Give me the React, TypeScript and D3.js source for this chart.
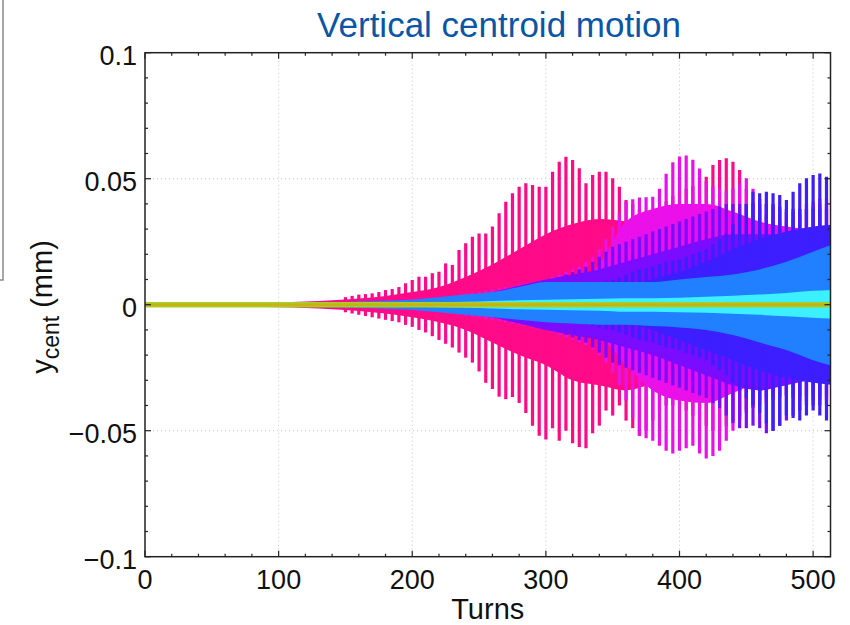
import React from 'react';
import * as d3 from 'd3';

// ---------- data (mm) ----------
const BAR_TURNS = [
  150,155,160,165,170,175,180,185,190,195,
  200,205,210,215,220,225,230,235,240,245,
  250,255,260,265,270,275,280,285,290,295,
  300,305,310,315,320,325,330,335,340,345,
  350,355,360,365,370,375,380,385,390,395,
  400,405,410,415,420,425,430,435,440,445,
  450,455,460,465,470,475,480,485,490,495,
  500,505,510];

const CORE_TURNS = [0,20,40,60,80,100,120,140,160,180,200,220,240,260,280,300,320,340,360,380,400,420,440,460,480,500,520];

// pink bunch
const PINK_TOP = [
  .003,.0035,.004,.0042,.0045,.005,.0058,.0062,.007,.0085,
  .0098,.0111,.0111,.0125,.0131,.0164,.0158,.0217,.0244,.027,
  .0283,.0283,.031,.0363,.0409,.0442,.0468,.0482,.0475,.0468,
  .0468,.0528,.0567,.0587,.0574,.0541,.0482,.0515,.0528,.0528,
  .0502,.0468,.0415,.040,.038,.037,.036,.038,.041,.043,
  .045,.046,.047,.049,.0508,.0554,.0574,.0581,.0567,.0535,
  .046,.041,.038,.036,.035,.034,.033,.034,.036,.038,
  .039,.040,.040];
const PINK_BOT = [
  -.003,-.0035,-.004,-.0045,-.005,-.0055,-.006,-.0065,-.007,-.008,
  -.0088,-.010,-.011,-.0125,-.014,-.0155,-.017,-.019,-.021,-.023,
  -.0265,-.031,-.0335,-.0365,-.0375,-.0366,-.039,-.043,-.048,-.052,
  -.0535,-.049,-.054,-.050,-.055,-.0565,-.057,-.051,-.048,-.042,
  -.044,-.040,-.046,-.049,-.052,-.050,-.046,-.042,-.040,-.040,
  -.041,-.042,-.044,-.046,-.048,-.050,-.050,-.048,-.046,-.044,
  -.042,-.040,-.038,-.037,-.036,-.036,-.036,-.037,-.038,-.038,
  -.038,-.038,-.038];
const PINK_CORE_TOP = [0,.0003,.0004,.0006,.0008,.001,.0013,.0018,.0025,.0035,.005,.007,.011,.016,.022,.028,.032,.034,.033,.030,.032,.036,.036,.030,.026,.026,.026];
const PINK_CORE_BOT = [0,-.0003,-.0004,-.0006,-.0008,-.001,-.0013,-.0018,-.0025,-.0035,-.005,-.007,-.010,-.015,-.020,-.024,-.030,-.032,-.034,-.032,-.034,-.034,-.032,-.028,-.026,-.026,-.026];

// magenta bunch
const MAG_TOP = [
  .001,.0011,.0012,.0013,.0014,.0015,.0016,.0017,.0018,.002,
  .0022,.0024,.0026,.0028,.003,.0033,.0036,.004,.0044,.0048,
  .0052,.0056,.006,.0065,.007,.0075,.008,.0085,.009,.0095,
  .010,.011,.012,.013,.014,.015,.017,.019,.022,.026,
  .031,.036,.041,.0418,.0425,.0426,.0428,.046,.052,.0565,
  .0588,.0592,.0575,.054,.049,.047,.046,.045,.046,.048,
  .0502,.046,.042,.040,.039,.038,.037,.037,.038,.040,
  .041,.042,.042];
const MAG_BOT = [
  -.001,-.0011,-.0012,-.0013,-.0014,-.0015,-.0016,-.0017,-.0018,-.002,
  -.0022,-.0024,-.0026,-.0028,-.003,-.0033,-.0036,-.004,-.0044,-.0048,
  -.0052,-.0056,-.006,-.0065,-.007,-.0075,-.008,-.0085,-.009,-.0095,
  -.010,-.011,-.012,-.013,-.014,-.015,-.016,-.018,-.020,-.023,
  -.027,-.032,-.038,-.045,-.052,-.053,-.054,-.056,-.058,-.059,
  -.058,-.057,-.056,-.059,-.061,-.060,-.058,-.054,-.050,-.046,
  -.043,-.041,-.040,-.039,-.038,-.037,-.036,-.036,-.036,-.036,
  -.036,-.036,-.036];
const MAG_CORE_TOP = [0,.0002,.0003,.0004,.0005,.0006,.0007,.0008,.001,.0012,.0014,.0017,.002,.0025,.003,.004,.007,.016,.033,.038,.040,.040,.037,.033,.031,.030,.030];
const MAG_CORE_BOT = [0,-.0002,-.0003,-.0004,-.0005,-.0006,-.0007,-.0008,-.001,-.0012,-.0014,-.0017,-.002,-.0025,-.003,-.004,-.006,-.012,-.024,-.034,-.038,-.039,-.035,-.031,-.029,-.028,-.028];

// violet bunch
const VIO_TOP = [
  .0008,.0008,.0009,.001,.001,.0011,.0012,.0013,.0014,.0015,
  .0016,.0018,.002,.0022,.0024,.0026,.0028,.003,.0033,.0036,
  .004,.0044,.0048,.0052,.0056,.006,.0065,.007,.0075,.008,
  .009,.010,.011,.012,.013,.014,.015,.017,.019,.021,
  .023,.024,.025,.026,.027,.028,.029,.030,.031,.032,
  .033,.034,.035,.036,.037,.038,.039,.040,.040,.040,
  .040,.040,.040,.040,.040,.039,.038,.038,.038,.038,
  .038,.038,.038];
const VIO_BOT = [
  -.0008,-.0008,-.0009,-.001,-.001,-.0011,-.0012,-.0013,-.0014,-.0015,
  -.0016,-.0018,-.002,-.0022,-.0024,-.0026,-.0028,-.003,-.0033,-.0036,
  -.004,-.0044,-.0048,-.0052,-.0056,-.006,-.0065,-.007,-.0075,-.008,
  -.009,-.010,-.011,-.012,-.013,-.014,-.015,-.017,-.019,-.021,
  -.023,-.024,-.025,-.026,-.027,-.028,-.029,-.030,-.031,-.032,
  -.033,-.034,-.035,-.036,-.037,-.039,-.041,-.044,-.047,-.049,
  -.049,-.048,-.049,-.051,-.050,-.048,-.046,-.044,-.042,-.040,
  -.040,-.040,-.040];
const VIO_CORE_TOP = [0,.0001,.0001,.0002,.0002,.0003,.0004,.0005,.0006,.0008,.001,.0015,.003,.005,.0075,.010,.012,.014,.017,.020,.023,.026,.028,.028,.028,.028,.028];
const VIO_CORE_BOT = [0,-.0001,-.0001,-.0002,-.0002,-.0003,-.0004,-.0005,-.0006,-.0008,-.001,-.0015,-.003,-.005,-.0075,-.010,-.012,-.014,-.017,-.020,-.024,-.028,-.032,-.034,-.032,-.030,-.030];

// blue-violet bunch
const BV_TOP = [
  .0005,.0005,.0006,.0006,.0007,.0007,.0008,.0008,.0009,.001,
  .0011,.0012,.0013,.0014,.0015,.0016,.0018,.002,.0022,.0024,
  .0026,.0028,.003,.0032,.0034,.0036,.0038,.004,.0043,.0046,
  .005,.0055,.006,.0065,.007,.0075,.008,.0085,.009,.0095,
  .010,.011,.012,.013,.014,.0145,.015,.016,.017,.0175,
  .018,.019,.020,.021,.022,.024,.026,.028,.032,.036,
  .040,.0448,.0442,.0448,.0442,.0435,.0415,.0448,.0482,.0502,
  .0515,.0521,.0508];
const BV_BOT = [
  -.0005,-.0005,-.0006,-.0006,-.0007,-.0007,-.0008,-.0008,-.0009,-.001,
  -.0011,-.0012,-.0013,-.0014,-.0015,-.0016,-.0018,-.002,-.0022,-.0024,
  -.0026,-.0028,-.003,-.0032,-.0034,-.0036,-.0038,-.004,-.0043,-.0046,
  -.005,-.0055,-.006,-.0065,-.007,-.0075,-.008,-.0085,-.009,-.0095,
  -.010,-.011,-.012,-.013,-.014,-.0145,-.015,-.016,-.017,-.0175,
  -.018,-.019,-.020,-.021,-.022,-.024,-.026,-.028,-.031,-.034,
  -.037,-.040,-.043,-.047,-.050,-.048,-.044,-.045,-.046,-.044,
  -.042,-.044,-.046];
const BV_CORE_TOP = [0,.0001,.0001,.0001,.0002,.0002,.0003,.0003,.0004,.0005,.0006,.0008,.001,.0013,.0018,.0025,.0035,.005,.007,.010,.013,.017,.022,.026,.029,.031,.032];
const BV_CORE_BOT = [0,-.0001,-.0001,-.0001,-.0002,-.0002,-.0003,-.0003,-.0004,-.0005,-.0006,-.0008,-.001,-.0013,-.0018,-.0025,-.0035,-.005,-.007,-.010,-.014,-.018,-.022,-.026,-.029,-.031,-.032];

// azure, cyan, green and gold bunches (envelopes only)
const AZ_TOP = [0,.0002,.0003,.0004,.0005,.0006,.0008,.001,.0013,.0016,.002,.003,.004,.005,.007,.009,.009,.009,.009,.009,.010,.011,.012,.014,.017,.021,.025];
const AZ_BOT = [0,-.0002,-.0003,-.0004,-.0005,-.0006,-.0008,-.001,-.0013,-.0016,-.002,-.003,-.004,-.005,-.006,-.007,-.0075,-.008,-.008,-.0085,-.009,-.010,-.012,-.015,-.018,-.022,-.025];
const CY_TOP = [0,0,0,0,.0001,.0002,.0003,.0004,.0005,.0006,.0008,.001,.0012,.0015,.0018,.002,.0022,.0024,.0026,.0026,.0028,.0032,.0036,.004,.0046,.0055,.006];
const CY_BOT = [0,0,0,0,-.0001,-.0002,-.0003,-.0004,-.0005,-.0006,-.0008,-.001,-.0012,-.0015,-.0018,-.002,-.0022,-.0024,-.0028,-.0028,-.003,-.0032,-.0036,-.004,-.0046,-.0052,-.0056];
const GR_TOP = [.0011,.0011,.0011,.0011,.0011,.0011,.0011,.0011,.0011,.0011,.0011,.0011,.0011,.0011,.0011,.0011,.0011,.0011,.0011,.0011,.0011,.0011,.0011,.0011,.0011,.0011,.0011];
const GR_BOT = [-.0011,-.0011,-.0011,-.0011,-.0011,-.0011,-.0011,-.0011,-.0011,-.0011,-.0011,-.0011,-.0011,-.0011,-.0011,-.0011,-.0011,-.0011,-.0011,-.0011,-.0011,-.0011,-.0011,-.0011,-.0011,-.0011,-.0011];
const GO_TOP = [.0005,.0005,.0005,.0005,.0005,.0005,.0005,.0005,.0005,.0005,.0005,.0005,.0005,.0005,.0005,.0005,.0005,.0005,.0005,.0005,.0005,.0005,.0005,.0005,.0005,.0005,.0005];
const GO_BOT = [-.0005,-.0005,-.0005,-.0005,-.0005,-.0005,-.0005,-.0005,-.0005,-.0005,-.0005,-.0005,-.0005,-.0005,-.0005,-.0005,-.0005,-.0005,-.0005,-.0005,-.0005,-.0005,-.0005,-.0005,-.0005,-.0005,-.0005];

const X_TICKS = [0, 100, 200, 300, 400, 500];
const X_TICK_LABELS = ['0', '100', '200', '300', '400', '500'];
const Y_TICKS = [-0.1, -0.05, 0, 0.05, 0.1];
const Y_TICK_LABELS = ['\u22120.1', '\u22120.05', '0', '0.05', '0.1'];
const X_GRID = [100, 200, 300, 400, 500];
const Y_GRID = [-0.05, 0, 0.05];

const TITLE = 'Vertical centroid motion';
const X_LABEL = 'Turns';

// ---------- layout ----------
const W = 850, H = 625;
const L = 145, R = 830.5, T = 52.7, B = 556.7;
const FONT = '"Liberation Sans", Arial, Helvetica, sans-serif';

export default function App() {
  const x = d3.scaleLinear().domain([0, 513]).range([L, R]);
  const y = d3.scaleLinear().domain([-0.1, 0.1]).range([B, T]);

  const area = (tops: number[], bots: number[]) =>
    d3.area<number>()
      .x((_, i) => x(CORE_TURNS[i]))
      .y0((_, i) => y(bots[i]))
      .y1((d) => y(d))
      .curve(d3.curveMonotoneX)(tops) || '';

  const traces = [
    { color: '#ff0a88', coreTop: PINK_CORE_TOP, coreBot: PINK_CORE_BOT, top: PINK_TOP, bot: PINK_BOT },
    { color: '#ea10ea', coreTop: MAG_CORE_TOP, coreBot: MAG_CORE_BOT, top: MAG_TOP, bot: MAG_BOT },
    { color: '#7a0cff', coreTop: VIO_CORE_TOP, coreBot: VIO_CORE_BOT, top: VIO_TOP, bot: VIO_BOT },
    { color: '#3c1eff', coreTop: BV_CORE_TOP, coreBot: BV_CORE_BOT, top: BV_TOP, bot: BV_BOT },
  ];
  const bands = [
    { color: '#2080ff', top: AZ_TOP, bot: AZ_BOT },
    { color: '#3cf0ff', top: CY_TOP, bot: CY_BOT },
    { color: '#a8cc2c', top: GR_TOP, bot: GR_BOT },
    { color: '#c4b410', top: GO_TOP, bot: GO_BOT },
  ];

  const minorX = d3.range(0, 513, 20).filter((v) => v % 100 !== 0);
  const minorY = d3.range(-10, 11, 1).map((v) => v / 100).filter((v) => Math.abs(Math.round(v * 100)) % 5 !== 0);

  return (
    <svg width={W} height={H} style={{ position: 'absolute', left: 0, top: 0, background: '#fff' }} fontFamily={FONT}>
      <defs>
        <clipPath id="plot">
          <rect x={L} y={T} width={R - L} height={B - T} />
        </clipPath>
      </defs>
      <rect x={0} y={0} width={W} height={H} fill="#ffffff" />

      {/* left slide border fragment */}
      <path d="M3,0 V280 H0" fill="none" stroke="#8a8a8a" strokeWidth={1.5} />

      {/* title */}
      <text x={499} y={37} textAnchor="middle" fontSize={35} fill="#0b56a4">{TITLE}</text>

      {/* grid */}
      <g stroke="#c8c8c8" strokeWidth={1} strokeDasharray="1,3">
        {X_GRID.map((v) => <line key={'gx' + v} x1={x(v)} x2={x(v)} y1={T} y2={B} />)}
        {Y_GRID.map((v) => <line key={'gy' + v} x1={L} x2={R} y1={y(v)} y2={y(v)} />)}
      </g>

      {/* data */}
      <g clipPath="url(#plot)">
        {traces.map((tr, k) => (
          <g key={'tr' + k}>
            <path d={area(tr.coreTop, tr.coreBot)} fill={tr.color} />
            {BAR_TURNS.map((t, i) => (
              <line key={i} x1={x(t)} x2={x(t)} y1={y(tr.top[i])} y2={y(tr.bot[i])} stroke={tr.color} strokeWidth={3.2} />
            ))}
          </g>
        ))}
        {bands.map((b, k) => (
          <path key={'b' + k} d={area(b.top, b.bot)} fill={b.color} />
        ))}
      </g>

      {/* frame */}
      <rect x={L} y={T} width={R - L} height={B - T} fill="none" stroke="#222" strokeWidth={1.5} />

      {/* ticks */}
      <g stroke="#222" strokeWidth={1.2}>
        {X_TICKS.map((v) => (
          <g key={'xt' + v}>
            <line x1={x(v)} x2={x(v)} y1={B} y2={B - 6} />
            <line x1={x(v)} x2={x(v)} y1={T} y2={T + 6} />
          </g>
        ))}
        {minorX.map((v) => (
          <g key={'xm' + v}>
            <line x1={x(v)} x2={x(v)} y1={B} y2={B - 3} />
            <line x1={x(v)} x2={x(v)} y1={T} y2={T + 3} />
          </g>
        ))}
        {Y_TICKS.map((v) => (
          <g key={'yt' + v}>
            <line x1={L} x2={L + 6} y1={y(v)} y2={y(v)} />
            <line x1={R} x2={R - 6} y1={y(v)} y2={y(v)} />
          </g>
        ))}
        {minorY.map((v) => (
          <g key={'ym' + v}>
            <line x1={L} x2={L + 3} y1={y(v)} y2={y(v)} />
            <line x1={R} x2={R - 3} y1={y(v)} y2={y(v)} />
          </g>
        ))}
      </g>

      {/* tick labels */}
      <g fontSize={27} fill="#111">
        {X_TICKS.map((v, i) => (
          <text key={'xl' + v} x={x(v)} y={589} textAnchor="middle">{X_TICK_LABELS[i]}</text>
        ))}
        {Y_TICKS.map((v, i) => (
          <text key={'yl' + v} x={L - 8} y={y(v) + 12.5} textAnchor="end">{Y_TICK_LABELS[i]}</text>
        ))}
      </g>

      {/* axis labels */}
      <text x={(L + R) / 2} y={619} textAnchor="middle" fontSize={29} fill="#111">{X_LABEL}</text>
      <text transform={`translate(52,307) rotate(-90)`} textAnchor="middle" fontSize={29} fill="#111">
        <tspan>y</tspan>
        <tspan fontSize={23} dy={7}>cent</tspan>
        <tspan dy={-7}> (mm)</tspan>
      </text>
    </svg>
  );
}
